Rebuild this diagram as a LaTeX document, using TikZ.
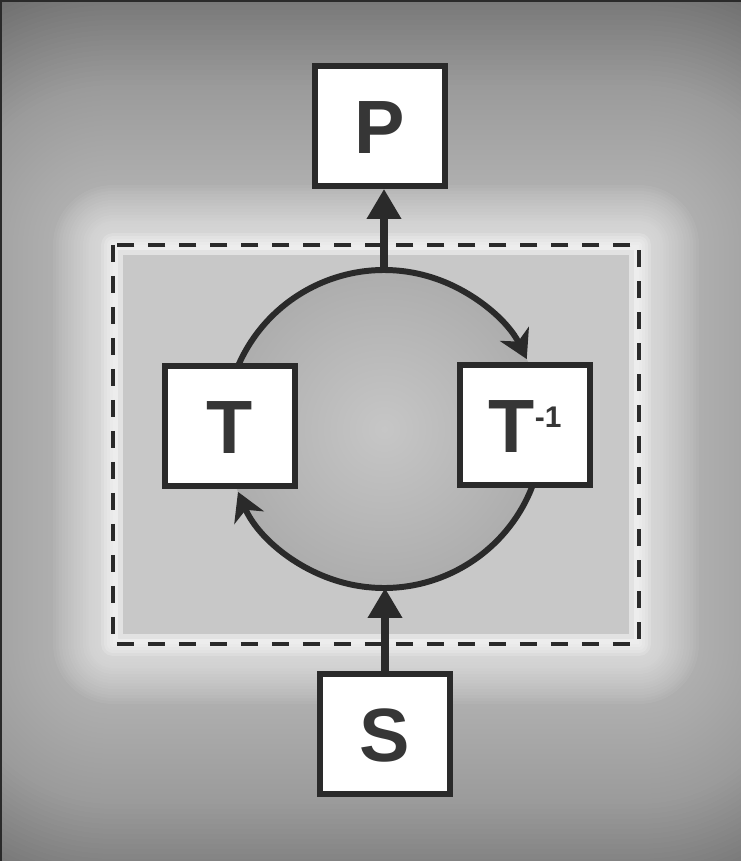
\documentclass[tikz,border=0pt]{standalone}
\usepackage{fontspec}
\setmainfont{Liberation Sans}
\usetikzlibrary{arrows.meta,shapes.geometric}

\definecolor{ink}{HTML}{2A2A2A}
\definecolor{inktext}{HTML}{363636}
\definecolor{bgdark}{HTML}{5E5E5E}
\definecolor{panel}{HTML}{C8C8C8}
\definecolor{panelrim}{HTML}{E2E2E2}
\definecolor{ringin}{HTML}{C6C6C6}
\definecolor{ringout}{HTML}{ADADAD}

\newfontfamily\boxfont[BoldFont={Liberation Sans Bold}]{Liberation Sans}

\tikzset{
  blk/.style={draw=ink, line width=3.4pt, fill=white,
    minimum width=2.6cm, minimum height=2.4cm, inner sep=0pt,
    font=\boxfont\bfseries\fontsize{43}{43}\selectfont, text=inktext,
    text height=31pt, text depth=0pt},
  flow/.style={draw=ink, line width=4pt,
    -{Triangle[length=0.6cm,width=0.66cm]}},
  ringflow/.style={draw=ink, line width=3.4pt,
    -{Stealth[length=0.56cm,width=0.64cm,inset=0.17cm]}},
  frame/.style={draw=ink, line width=2.8pt,
    dash pattern=on 0.34cm off 0.28cm},
}

\begin{document}
\begin{tikzpicture}[x=0.02cm, y=-0.02cm]
  % canvas
  \useasboundingbox (0,0) rectangle (741,861);
  \fill[bgdark] (0,0) rectangle (741,861);

  % soft light glow spreading out from the dashed region
  \foreach \o in {300,295,...,0}
    \fill[white, opacity=0.02, rounded corners=\o*0.02cm]
      (113-\o,245-\o) rectangle (639+\o,644+\o);
  \foreach \o in {60,57,...,0}
    \fill[white, opacity=0.045, rounded corners=\o*0.02cm]
      (113-\o,245-\o) rectangle (639+\o,644+\o);
  \foreach \o in {12,9,...,0}
    \fill[white, opacity=0.15, rounded corners=\o*0.02cm]
      (113-\o,245-\o) rectangle (639+\o,644+\o);

  % edge line along the left and top
  \draw[ink, line width=1.6pt] (1,861) -- (1,1) -- (741,1);

  % inner panel
  \fill[panelrim] (118,250) rectangle (634,639);
  \fill[panel] (123,255) rectangle (629,634);

  % dashed boundary
  \draw[frame] (113,245) rectangle (639,644);

  % shaded disc of the cycle
  \node[circle, minimum size=6.36cm, inner sep=0pt, outer sep=0pt,
        inner color=ringin, outer color=ringout] (ring) at (384,429) {};

  % cycle arcs
  \draw[ringflow] (ring.160) arc[start angle=160, end angle=26.1, radius=3.18cm];
  \draw[ringflow] (ring.-15) arc[start angle=-15, end angle=-156.7, radius=3.18cm];

  % boxes
  \node[blk] (P) at (380,126) {P};
  \node[blk] (T) at (230,426) {T};
  \node[blk] (Ti) at (525,425) {T\raisebox{0.5cm}{\fontsize{17}{17}\selectfont -1}};
  \node[blk] (S) at (385,734) {S};

  % input and output connectors
  \draw[flow] (ring.north) -- (ring.north |- P.south);
  \draw[flow] (S.north) -- (S.north |- ring.south);
\end{tikzpicture}
\end{document}
